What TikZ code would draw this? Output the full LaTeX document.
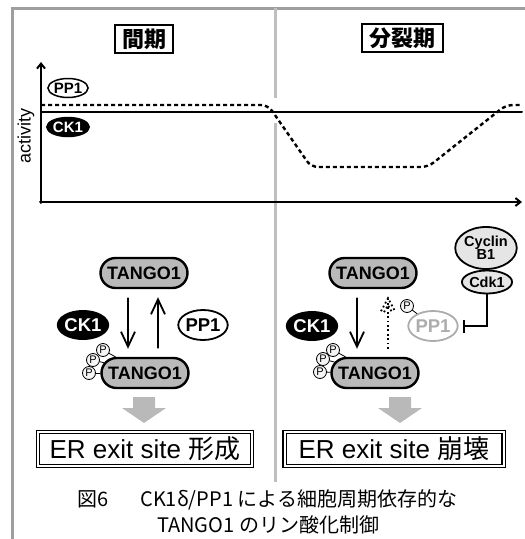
\documentclass[tikz,border=0pt]{standalone}
\usepackage{fontspec}
\setmainfont{Liberation Sans}
\newfontfamily\jp{Noto Sans CJK JP}
\usetikzlibrary{arrows.meta,shapes.geometric,shapes.misc,calc}

\begin{document}
\begin{tikzpicture}[x=1pt,y=-1pt,line cap=round,
  frame/.style={gray!75,line width=3pt,line cap=butt},
  divider/.style={gray!50,line width=3pt,line cap=butt},
  headbox/.style={draw,line width=2pt,minimum height=28pt,inner sep=0pt,font=\jp\bfseries\fontsize{22}{22}\selectfont},
  sitebox/.style={draw,double,double distance=2pt,line width=1.1pt,minimum width=214pt,minimum height=34pt,inner sep=0pt,font=\fontsize{26}{26}\selectfont},
  tango/.style={rounded rectangle,draw,line width=2.4pt,fill=gray!55,minimum width=87pt,minimum height=30pt,inner sep=0pt,font=\bfseries\fontsize{18}{18}\selectfont},
  kinase/.style={ellipse,fill=black,text=white,minimum width=48pt,minimum height=30pt,inner sep=0pt,font=\bfseries\fontsize{18.5}{18}\selectfont},
  phosphatase/.style={ellipse,draw,line width=1.8pt,fill=white,minimum width=48pt,minimum height=30pt,inner sep=0pt,font=\bfseries\fontsize{18.5}{18}\selectfont},
  tag/.style={ellipse,draw,line width=1.5pt,minimum width=38pt,minimum height=19pt,inner sep=0pt,font=\bfseries\fontsize{15}{15}\selectfont},
  pdot/.style={circle,draw,line width=0.8pt,fill=gray!8,minimum size=13pt,inner sep=0pt,font=\fontsize{11}{11}\selectfont},
  react/.style={line width=1.8pt,-{Straight Barb[length=15pt,width=14pt]},shorten <=9pt,shorten >=8pt},
  faint/.style={line width=1.8pt,dash pattern=on 1.8pt off 2.6pt,line cap=butt},
  axis/.style={line width=2pt,-{Straight Barb[length=5pt,width=8pt]}},
  block/.style={fill=gray!55},
  cyclin/.style={ellipse,draw,line width=1.8pt,fill=gray!20,inner sep=0pt,align=center,font=\bfseries\fontsize{14.5}{14}\selectfont}]
\useasboundingbox (0,0) rectangle (525,539);

% frame and divider
\draw[frame] (12,539) -- (12,8) -- (525,8);
\draw[divider] (275,8) -- (275,98);
\draw[divider] (275,123) -- (275,482);

\node[headbox,minimum width=58pt] (inter) at (144,39) {間期};
\node[headbox,minimum width=81pt] (mito) at (402,38) {分裂期};

% activity plot
\coordinate (o) at (41,202);
\draw[axis] (41,203) -- (41,62);
\draw[axis] (40,202) -- (522,202);
\node[rotate=90,font=\fontsize{18}{18}\selectfont] (act) at (26,136) {activity};
\draw[line width=2pt] (41,112) -- (522,112);
\draw[line width=2.4pt,dash pattern=on 4pt off 3pt,line cap=butt,rounded corners=7pt]
  (41,105) -- (268,105) -- (311,167) -- (428,167) -- (506,105) -- (522,105);
\node[tag,fill=white] (pptag) at (68,88) {PP1};
\node[tag,fill=black,text=white] (cktag) at (68,127) {CK1};

% interphase
\node[tango] (t1a) at (144,273) {TANGO1};
\node[tango] (t1b) at (145,373) {TANGO1};
\node[kinase] (ck1a) at (83,325) {CK1};
\node[phosphatase] (pp1a) at (203,325) {PP1};
\draw[react] ([xshift=-16pt]t1a.south) -- ([xshift=-17pt]t1b.north);
\draw[react] ([xshift=13pt]t1b.north) -- ([xshift=14pt]t1a.south);
\node[pdot] (pa1) at (89,373) {P};
\node[pdot] (pa2) at (93,360) {P};
\node[pdot] (pa3) at (103,350) {P};
\draw[line width=0.8pt] (pa1) -- (t1b);
\draw[line width=0.8pt] (pa2) -- (t1b);
\draw[line width=0.8pt] (pa3) -- (t1b);
\fill[block] (133,397) -- (155,397) -- (155,408) -- (166,408) -- (144,423) -- (122,408) -- (133,408) -- cycle;
\node[sitebox] (site1) at (145,449) {ER exit site {\jp 形成}};

% mitosis
\node[tango] (t2a) at (373,273) {TANGO1};
\node[tango] (t2b) at (375,373) {TANGO1};
\node[kinase] (ck1b) at (312,326) {CK1};
\node[phosphatase,draw=gray!65,text=gray!65] (pp1b) at (433,326) {PP1};
\node[pdot] (pp) at (407,306) {P};
\draw[line width=0.8pt] (pp) -- (pp1b);
\draw[react] ([xshift=-16pt]t2a.south) -- ([xshift=-18pt]t2b.north);
\coordinate (tip) at ([xshift=15pt,yshift=-9pt]t2a.south);
\draw[faint] ([xshift=13pt,yshift=8pt]t2b.north) -- (tip);
\draw[faint] ($(tip)+(-7,13)$) -- (tip) -- ($(tip)+(7,13)$);
\draw[faint] ($(tip)+(-4,14)$) -- ($(tip)+(0,7)$) -- ($(tip)+(4,14)$);
\node[pdot] (pb1) at (320,372) {P};
\node[pdot] (pb2) at (323,359) {P};
\node[pdot] (pb3) at (333,350) {P};
\draw[line width=0.8pt] (pb1) -- (t2b);
\draw[line width=0.8pt] (pb2) -- (t2b);
\draw[line width=0.8pt] (pb3) -- (t2b);
\node[cyclin,minimum width=55pt,minimum height=42pt] (cyc) at (486,248) {Cyclin\\[-1pt]B1};
\node[cyclin,minimum width=45pt,minimum height=23pt] (cdk) at (487,282) {Cdk1};
\draw[line width=1.8pt,line cap=butt,-{Bar[width=13pt,line width=2pt]},shorten >=4pt] (cdk.south) |- (pp1b.east);
\fill[block] (389,397) -- (411,397) -- (411,408) -- (422,408) -- (400,423) -- (378,408) -- (389,408) -- cycle;
\node[sitebox,minimum width=219pt] (site2) at (394,449) {ER exit site {\jp 崩壊}};

% caption
\node[anchor=west,inner sep=0pt,font=\jp\fontsize{20}{20}\selectfont] (cap1) at (77,500) {図6\hspace{1.6em}CK1δ/PP1 による細胞周期依存的な};
\node[anchor=west,inner sep=0pt,font=\jp\fontsize{20}{20}\selectfont] (cap2) at (157,525) {TANGO1 のリン酸化制御};
\end{tikzpicture}
\end{document}
